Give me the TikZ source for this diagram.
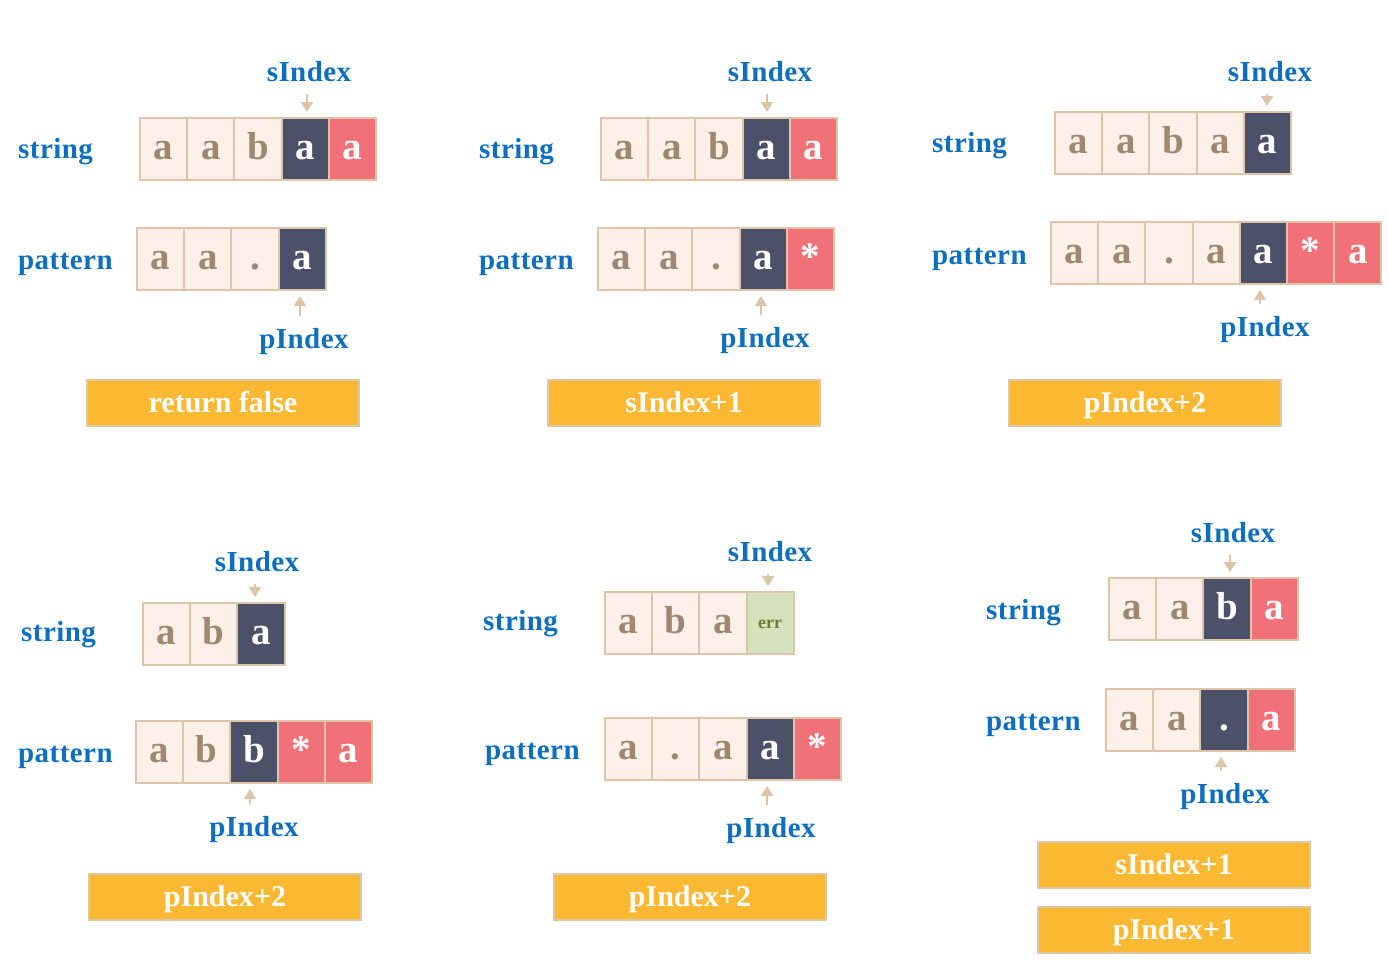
\documentclass[tikz,border=0pt]{standalone}
\usepackage{fontspec}
\setmainfont{Liberation Serif}
\newfontfamily\lblfont[LetterSpace=1.5]{Liberation Serif}
\usetikzlibrary{arrows.meta}
\definecolor{cellfill}{HTML}{FCF0E8}
\definecolor{cellline}{HTML}{DEC4A8}
\definecolor{darkc}{HTML}{4A5169}
\definecolor{redc}{HTML}{F17179}
\definecolor{greenc}{HTML}{D6E2BE}
\definecolor{errc}{HTML}{6E7B32}
\definecolor{bluec}{HTML}{0E6FBE}
\definecolor{orangec}{HTML}{FBB833}
\definecolor{boxline}{HTML}{DFC6A5}
\definecolor{letterc}{HTML}{9E8870}
\tikzset{
  cellbase/.style={draw=cellline, line width=2pt, minimum width=47.2pt, minimum height=62pt,
    inner sep=0pt, font=\fontsize{39}{42}\selectfont\bfseries, text height=21pt, text depth=0pt},
  lc/.style={cellbase, fill=cellfill, text=letterc},
  dc/.style={cellbase, fill=darkc, text=white},
  rc/.style={cellbase, fill=redc, text=white},
  gc/.style={cellbase, fill=greenc, text=errc, font=\fontsize{18}{20}\selectfont\bfseries, text height=10pt},
  lbl/.style={text=bluec, font=\lblfont\fontsize{29}{32}\selectfont\bfseries, inner sep=0pt},
  resbox/.style={draw=boxline, line width=1.5pt, fill=orangec, text=white, minimum width=272pt,
    minimum height=46pt, inner sep=0pt, font=\fontsize{30}{32}\selectfont\bfseries, text height=19pt, text depth=0pt},
  ptr/.style={draw=cellline, line width=2.2pt, -{Triangle[length=10pt,width=12pt]}},
}
\newcommand\cellrow[4]{%
  \foreach [count=\i] \st/\t in {#4} {\node[\st] (#1\i) at ({#2+(\i-0.5)*47.2},#3) {\t};}%
}
\begin{document}
\begin{tikzpicture}[x=1pt,y=-1pt]
\useasboundingbox (0,0) rectangle (1389,961);
% ---------- panel 1
\node[lbl, anchor=base] (p1si) at (309,81) {sIndex};
\node[lbl, anchor=base west] (p1str) at (18,158) {string};
\node[lbl, anchor=base west] (p1pat) at (18,269) {pattern};
\node[lbl, anchor=base] (p1pi) at (304,348) {pIndex};
\cellrow{p1s}{140}{149}{lc/a,lc/a,lc/b,dc/a,rc/a}
\cellrow{p1p}{137}{259}{lc/a,lc/a,lc/.,dc/a}
\draw[ptr, shorten <=13pt, shorten >=5pt] ([xshift=-2pt]p1si.south) -- ([xshift=-2pt]p1si.south |- p1s4.north);
\draw[ptr, shorten <=12pt, shorten >=5pt] ([xshift=-4pt]p1pi.north) -- ([xshift=-4pt]p1pi.north |- p1p4.south);
\node[resbox] (p1box) at (223,403) {return false};
% ---------- panel 2
\node[lbl, anchor=base] (p2si) at (770,81) {sIndex};
\node[lbl, anchor=base west] (p2str) at (479,158) {string};
\node[lbl, anchor=base west] (p2pat) at (479,269) {pattern};
\node[lbl, anchor=base] (p2pi) at (765,347) {pIndex};
\cellrow{p2s}{601}{149}{lc/a,lc/a,lc/b,dc/a,rc/a}
\cellrow{p2p}{598}{259}{lc/a,lc/a,lc/.,dc/a,rc/*}
\draw[ptr, shorten <=13pt, shorten >=5pt] ([xshift=-3pt]p2si.south) -- ([xshift=-3pt]p2si.south |- p2s4.north);
\draw[ptr, shorten <=12pt, shorten >=5pt] ([xshift=-4pt]p2pi.north) -- ([xshift=-4pt]p2pi.north |- p2p4.south);
\node[resbox] (p2box) at (684,403) {sIndex+1};
% ---------- panel 3
\node[lbl, anchor=base] (p3si) at (1270,81) {sIndex};
\node[lbl, anchor=base west] (p3str) at (932,152) {string};
\node[lbl, anchor=base west] (p3pat) at (932,264) {pattern};
\node[lbl, anchor=base] (p3pi) at (1265,336) {pIndex};
\cellrow{p3s}{1055}{143}{lc/a,lc/a,lc/b,lc/a,dc/a}
\cellrow{p3p}{1051}{253}{lc/a,lc/a,lc/.,lc/a,dc/a,rc/*,rc/a}
\draw[ptr, shorten <=13pt, shorten >=5pt] ([xshift=-3pt]p3si.south) -- ([xshift=-3pt]p3si.south |- p3s5.north);
\draw[ptr, shorten <=12pt, shorten >=5pt] ([xshift=-5pt]p3pi.north) -- ([xshift=-5pt]p3pi.north |- p3p5.south);
\node[resbox] (p3box) at (1145,403) {pIndex+2};
% ---------- panel 4
\node[lbl, anchor=base] (p4si) at (257,571) {sIndex};
\node[lbl, anchor=base west] (p4str) at (21,641) {string};
\node[lbl, anchor=base west] (p4pat) at (18,762) {pattern};
\node[lbl, anchor=base] (p4pi) at (254,836) {pIndex};
\cellrow{p4s}{143}{634}{lc/a,lc/b,dc/a}
\cellrow{p4p}{136}{752}{lc/a,lc/b,dc/b,rc/*,rc/a}
\draw[ptr, shorten <=13pt, shorten >=5pt] ([xshift=-2pt]p4si.south) -- ([xshift=-2pt]p4si.south |- p4s3.north);
\draw[ptr, shorten <=12pt, shorten >=5pt] ([xshift=-4pt]p4pi.north) -- ([xshift=-4pt]p4pi.north |- p4p3.south);
\node[resbox] (p4box) at (225,897) {pIndex+2};
% ---------- panel 5
\node[lbl, anchor=base] (p5si) at (770,561) {sIndex};
\node[lbl, anchor=base west] (p5str) at (483,630) {string};
\node[lbl, anchor=base west] (p5pat) at (485,759) {pattern};
\node[lbl, anchor=base] (p5pi) at (771,837) {pIndex};
\cellrow{p5s}{605}{623}{lc/a,lc/b,lc/a,gc/err}
\cellrow{p5p}{605}{749}{lc/a,lc/.,lc/a,dc/a,rc/*}
\draw[ptr, shorten <=13pt, shorten >=5pt] ([xshift=-2pt]p5si.south) -- ([xshift=-2pt]p5si.south |- p5s4.north);
\draw[ptr, shorten <=12pt, shorten >=5pt] ([xshift=-4pt]p5pi.north) -- ([xshift=-4pt]p5pi.north |- p5p4.south);
\node[resbox] (p5box) at (690,897) {pIndex+2};
% ---------- panel 6
\node[lbl, anchor=base] (p6si) at (1233,542) {sIndex};
\node[lbl, anchor=base west] (p6str) at (986,619) {string};
\node[lbl, anchor=base west] (p6pat) at (986,730) {pattern};
\node[lbl, anchor=base] (p6pi) at (1225,803) {pIndex};
\cellrow{p6s}{1109}{609}{lc/a,lc/a,dc/b,rc/a}
\cellrow{p6p}{1106}{720}{lc/a,lc/a,dc/.,rc/a}
\draw[ptr, shorten <=13pt, shorten >=5pt] ([xshift=-3pt]p6si.south) -- ([xshift=-3pt]p6si.south |- p6s3.north);
\draw[ptr, shorten <=12pt, shorten >=5pt] ([xshift=-4pt]p6pi.north) -- ([xshift=-4pt]p6pi.north |- p6p3.south);
\node[resbox] (p6boxa) at (1174,865) {sIndex+1};
\node[resbox] (p6boxb) at (1174,930) {pIndex+1};
\end{tikzpicture}
\end{document}
